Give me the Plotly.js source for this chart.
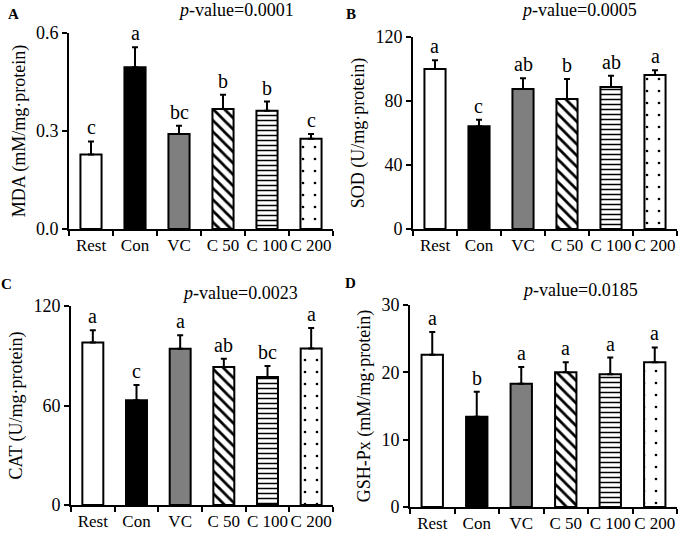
<!DOCTYPE html>
<html>
<head>
<meta charset="utf-8">
<script src="https://cdn.plot.ly/plotly-3.0.1.min.js"></script>
<style>
  html, body { margin: 0; padding: 0; background: #fff; }
  #chart { width: 688px; height: 535px; }
</style>
</head>
<body>
<div id="chart"></div>
<script>
const groups = ["Rest", "Con", "VC", "C 50", "C 100", "C 200"];

const mdaMean = [0.228, 0.495, 0.291, 0.367, 0.362, 0.276];
const mdaSd = [0.040, 0.061, 0.025, 0.044, 0.028, 0.015];
const mdaLetters = ["c", "a", "bc", "b", "b", "c"];

const sodMean = [100, 64.2, 87.5, 81.2, 88.8, 96.2];
const sodSd = [5.4, 4.1, 6.7, 12.5, 7.0, 3.0];
const sodLetters = ["a", "c", "ab", "b", "ab", "a"];

const catMean = [98, 63.2, 94.2, 83.2, 77.2, 94.4];
const catSd = [7.4, 9.2, 8.2, 5.0, 6.6, 12.4];
const catLetters = ["a", "c", "a", "ab", "bc", "a"];

const gshMean = [22.6, 13.4, 18.3, 20.0, 19.7, 21.5];
const gshSd = [3.4, 3.7, 2.5, 1.5, 2.5, 2.2];
const gshLetters = ["a", "b", "a", "a", "a", "a"];

const pValues = ["0.0001", "0.0005", "0.0023", "0.0185"];
const panelLabels = ["A", "B", "C", "D"];

const barColors = ["#ffffff", "#000000", "#7f7f7f", "#ffffff", "#ffffff", "#ffffff"];
const barShapes = ["", "", "", "\\", "-", "."];
const barSizes = [8, 8, 8, 8, 5, 12];
const barSolidity = [0.3, 0.3, 0.3, 0.35, 0.3, 0.04];

const serif = "'Liberation Serif', 'Times New Roman', serif";

const annotations = [];

function panel(mean, sd, letters, ax) {
  const out = [];
  groups.forEach((g, i) => {
    const marker = {
      color: barColors[i],
      line: { color: "#000", width: 2 },
    };
    if (barShapes[i]) {
      marker.pattern = {
        shape: barShapes[i],
        fgcolor: "#000",
        bgcolor: "#fff",
        size: barSizes[i],
        solidity: barSolidity[i],
      };
    }
    out.push({
      type: "bar",
      x: [g],
      y: [mean[i]],
      xaxis: "x" + ax,
      yaxis: "y" + ax,
      width: 0.48,
      marker: marker,
      error_y: {
        type: "data",
        symmetric: false,
        array: [sd[i]],
        arrayminus: [0],
        color: "#000",
        thickness: 2,
        width: 3,
      },
      hoverinfo: "skip",
    });
    // significance letter above the error bar
    annotations.push({
      xref: "x" + ax,
      yref: "y" + ax,
      x: g,
      y: mean[i] + sd[i],
      text: letters[i],
      showarrow: false,
      xanchor: "center",
      yanchor: "bottom",
      yshift: 1,
      font: { family: serif, size: 20, color: "#000" },
    });
  });
  return out;
}

const traces = [
  ...panel(mdaMean, mdaSd, mdaLetters, ""),
  ...panel(sodMean, sodSd, sodLetters, "2"),
  ...panel(catMean, catSd, catLetters, "3"),
  ...panel(gshMean, gshSd, gshLetters, "4"),
];

function xAxis(domain, anchor) {
  return {
    domain: domain,
    anchor: anchor,
    type: "category",
    categoryorder: "array",
    categoryarray: groups,
    showline: true,
    linewidth: 2,
    linecolor: "#000",
    ticks: "outside",
    tickson: "boundaries",
    ticklen: 5,
    tickwidth: 2,
    tickcolor: "#000",
    tickangle: 0,
    showgrid: false,
    zeroline: false,
    tickfont: { family: serif, size: 17, color: "#000" },
    fixedrange: true,
  };
}

function yAxis(domain, anchor, range, dtick, fmt, title) {
  return {
    domain: domain,
    anchor: anchor,
    range: range,
    dtick: dtick,
    tick0: 0,
    tickformat: fmt,
    showline: true,
    linewidth: 2,
    linecolor: "#000",
    ticks: "outside",
    ticklen: 5,
    tickwidth: 2,
    tickcolor: "#000",
    showgrid: false,
    zeroline: false,
    tickfont: { family: serif, size: 18, color: "#000" },
    title: { text: title, font: { family: serif, size: 18, color: "#000" }, standoff: 6 },
    fixedrange: true,
  };
}

const pPos = [[236, 10], [579, 10], [240, 293], [580, 290]];
const letterPos = [[13, 14], [351, 14], [6, 284], [350, 283]];

pValues.forEach((p, i) => {
  annotations.push({
    xref: "paper", yref: "paper",
    x: pPos[i][0] / 688, y: 1 - pPos[i][1] / 535,
    xanchor: "center", yanchor: "middle",
    text: "<i>p</i>-value=" + p,
    showarrow: false,
    font: { family: serif, size: 18, color: "#000" },
  });
  annotations.push({
    xref: "paper", yref: "paper",
    x: letterPos[i][0] / 688, y: 1 - letterPos[i][1] / 535,
    xanchor: "center", yanchor: "middle",
    text: "<b>" + panelLabels[i] + "</b>",
    showarrow: false,
    font: { family: serif, size: 15, color: "#000" },
  });
});

const layout = {
  width: 688,
  height: 535,
  margin: { l: 0, r: 0, t: 0, b: 0 },
  paper_bgcolor: "#fff",
  plot_bgcolor: "#fff",
  showlegend: false,
  barmode: "overlay",
  xaxis: xAxis([69 / 688, 333 / 688], "y"),
  yaxis: yAxis([1 - 229 / 535, 1 - 33 / 535], "x", [0, 0.6], 0.3, ".1f", "MDA (mM/mg·protein)"),
  xaxis2: xAxis([413 / 688, 677 / 688], "y2"),
  yaxis2: yAxis([1 - 229 / 535, 1 - 37 / 535], "x2", [0, 120], 40, "d", "SOD (U/mg·protein)"),
  xaxis3: xAxis([71 / 688, 333 / 688], "y3"),
  yaxis3: yAxis([1 - 505 / 535, 1 - 306 / 535], "x3", [0, 120], 60, "d", "CAT (U/mg·protein)"),
  xaxis4: xAxis([410 / 688, 677 / 688], "y4"),
  yaxis4: yAxis([1 - 507 / 535, 1 - 305 / 535], "x4", [0, 30], 10, "d", "GSH-Px (mM/mg·protein)"),
  annotations: annotations,
};

Plotly.newPlot("chart", traces, layout, { displayModeBar: false });
</script>
</body>
</html>
